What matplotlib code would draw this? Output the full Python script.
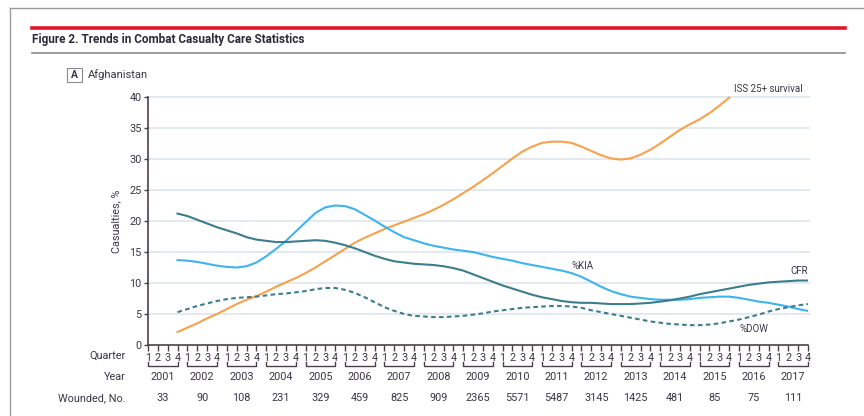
import matplotlib
matplotlib.use("Agg")
import matplotlib.pyplot as plt
from matplotlib import font_manager
from matplotlib.lines import Line2D
from matplotlib.patches import Rectangle

# ---------------- data ----------------
years = [2001, 2002, 2003, 2004, 2005, 2006, 2007, 2008, 2009, 2010, 2011,
         2012, 2013, 2014, 2015, 2016, 2017]
wounded = [33, 90, 108, 231, 329, 459, 825, 909, 2365, 5571, 5487, 3145,
           1425, 481, 85, 75, 111]
quarter_labels = ["1", "2", "3", "4"]

# series start at 2001 Q4 (quarter index 3)
iss_start = 3
iss_survival = [2.1, 2.8, 3.5, 4.3, 5.0, 5.8, 6.6, 7.3, 7.9, 8.6, 9.4, 10.1, 10.8,
                11.6, 12.5, 13.5, 14.5, 15.5, 16.5, 17.3, 18.0, 18.7, 19.3, 19.9,
                20.5, 21.1, 21.8, 22.6, 23.5, 24.5, 25.5, 26.6, 27.7, 28.9, 30.1,
                31.2, 32.0, 32.6, 32.8, 32.8, 32.6, 32.0, 31.3, 30.6, 30.1, 29.9,
                30.1, 30.7, 31.5, 32.5, 33.6, 34.7, 35.6, 36.4, 37.4, 38.6, 39.9]
cfr = [21.2, 20.8, 20.2, 19.6, 19.0, 18.5, 18.0, 17.4, 17.0, 16.8, 16.6, 16.6,
       16.7, 16.8, 16.9, 16.8, 16.5, 16.1, 15.6, 15.0, 14.4, 13.9, 13.5, 13.3,
       13.1, 13.0, 12.9, 12.7, 12.4, 12.0, 11.4, 10.8, 10.2, 9.6, 9.1, 8.6, 8.1,
       7.7, 7.4, 7.1, 6.9, 6.8, 6.8, 6.7, 6.6, 6.6, 6.6, 6.7, 6.8, 7.0, 7.2, 7.5,
       7.8, 8.2, 8.5, 8.8, 9.1, 9.4, 9.7, 9.9, 10.1, 10.2, 10.3, 10.4, 10.4]
kia = [13.7, 13.6, 13.4, 13.1, 12.8, 12.6, 12.5, 12.7, 13.3, 14.3, 15.5, 16.8,
       18.3, 19.8, 21.3, 22.2, 22.5, 22.4, 21.9, 21.0, 20.1, 19.1, 18.2, 17.4,
       16.9, 16.4, 16.0, 15.7, 15.4, 15.2, 15.0, 14.6, 14.2, 13.9, 13.6, 13.2,
       12.9, 12.6, 12.3, 12.0, 11.6, 11.0, 10.2, 9.4, 8.7, 8.2, 7.8, 7.6, 7.4,
       7.3, 7.3, 7.3, 7.4, 7.6, 7.7, 7.8, 7.8, 7.6, 7.3, 7.0, 6.8, 6.5, 6.2,
       5.8, 5.5]
dow = [5.3, 5.8, 6.3, 6.7, 7.1, 7.4, 7.6, 7.7, 7.8, 8.0, 8.2, 8.3, 8.5, 8.7,
       9.0, 9.2, 9.2, 8.9, 8.4, 7.7, 6.9, 6.1, 5.5, 5.0, 4.7, 4.6, 4.5, 4.5,
       4.6, 4.7, 4.9, 5.1, 5.4, 5.6, 5.8, 6.0, 6.1, 6.2, 6.3, 6.3, 6.2, 6.0,
       5.6, 5.3, 5.0, 4.7, 4.4, 4.1, 3.8, 3.6, 3.4, 3.3, 3.2, 3.2, 3.3, 3.5,
       3.8, 4.1, 4.5, 4.9, 5.4, 5.8, 6.1, 6.4, 6.6]
yticks = [0, 5, 10, 15, 20, 25, 30, 35, 40]

# ---------------- style ----------------
names = {f.name for f in font_manager.fontManager.ttflist}
FONT = "Liberation Sans Narrow" if "Liberation Sans Narrow" in names else "Roboto"
plt.rcParams["font.family"] = [FONT, "DejaVu Sans"]

TXT = "#3c3545"
AX = "#4a4146"
GRID = "#dfe7ee"
ORANGE = "#f9a04b"
BLUE = "#3cb4ef"
TEAL = "#3b7d8d"

W, H = 864, 416
fig = plt.figure(figsize=(W / 100, H / 100), dpi=100)

def fx(px):
    return px / W

def fy(py):
    return 1 - py / H

# frame, rules
fig.add_artist(Line2D([fx(10), fx(10)], [fy(8), fy(416)], color="#9a9a9a", lw=1))
fig.add_artist(Line2D([fx(10), fx(864)], [fy(8), fy(8)], color="#9a9a9a", lw=1))
fig.add_artist(Line2D([fx(32), fx(845)], [fy(27.5), fy(27.5)], color="#e3132c", lw=2.6))
fig.add_artist(Line2D([fx(32), fx(845)], [fy(52.5), fy(52.5)], color="#8a8a8a", lw=1.2))
fig.text(fx(32), fy(40), "Figure 2. Trends in Combat Casualty Care Statistics",
         fontsize=8.5, fontweight="bold", color="#2d2a3a", va="center", ha="left")
fig.add_artist(Rectangle((fx(67), fy(82)), fx(82) - fx(67), fy(68) - fy(82),
                         fill=False, ec="#8a8a8a", lw=0.8))
fig.text(fx(74.5), fy(75), "A", fontsize=7.5, fontweight="bold", color=TXT,
         ha="center", va="center")
fig.text(fx(88), fy(75), "Afghanistan", fontsize=8, color=TXT, ha="left", va="center")

# axes: x pixel 148..808 for quarter index 0..67, y pixel 345..97 for 0..40
ax = fig.add_axes([fx(148), fy(345), fx(808) - fx(148), fy(97) - fy(345)])
ax.set_xlim(0, 67)
ax.set_ylim(0, 40)

for y in yticks[1:]:
    ax.plot([0, 67.1], [y, y], color=GRID, lw=1.3, zorder=1, clip_on=False)

xs_iss = list(range(iss_start, iss_start + len(iss_survival)))
xs_all = list(range(iss_start, iss_start + len(cfr)))
ax.plot(xs_iss, iss_survival, color=ORANGE, lw=1.5, zorder=3, clip_on=False)
ax.plot(xs_all, kia, color=BLUE, lw=1.5, zorder=3)
ax.plot(xs_all, cfr, color=TEAL, lw=1.5, zorder=3)
ax.plot(xs_all, dow, color=TEAL, lw=1.5, ls=(0, (2.2, 1.6)), zorder=3)

for s in ["top", "right"]:
    ax.spines[s].set_visible(False)
for s in ["left", "bottom"]:
    ax.spines[s].set_color(AX)
    ax.spines[s].set_linewidth(1.2)

ax.set_yticks(yticks)
ax.set_yticklabels([str(v) for v in yticks])
nq = 4 * len(years)
ax.set_xticks(range(nq))
ax.set_xticklabels([quarter_labels[i % 4] for i in range(nq)])
ax.tick_params(axis="y", direction="out", length=3, width=1, color=AX,
               labelsize=7.8, labelcolor=TXT, pad=1.5)
ax.tick_params(axis="x", direction="out", length=4, width=1, color=AX,
               labelsize=7.8, labelcolor=TXT, pad=1.5)
ax.set_ylabel("Casualties, %", fontsize=7.8, color=TXT, labelpad=6)

# year brackets, year labels, wounded counts
tr = ax.get_xaxis_transform()
def ay(py):
    return (345 - py) / 248.0

for k, (yr, wn) in enumerate(zip(years, wounded)):
    x0, x1 = 4 * k, 4 * k + 3
    ax.plot([x0, x0, x1, x1], [ay(362), ay(366), ay(366), ay(362)],
            color=AX, lw=1.0, transform=tr, clip_on=False)
    ax.text((x0 + x1) / 2, ay(377), str(yr), transform=tr, fontsize=7.8,
            color=TXT, ha="center", va="center")
    ax.text((x0 + x1) / 2, ay(398), str(wn), transform=tr, fontsize=7.8,
            color=TXT, ha="center", va="center")

for lab, py in [("Quarter", 356), ("Year", 377), ("Wounded, No.", 398)]:
    fig.text(fx(126), fy(py), lab, fontsize=7.8, color=TXT, ha="right", va="center")

# series labels
fig.text(fx(734), fy(89), "ISS 25+ survival", fontsize=7, color=TXT, ha="left", va="center")
fig.text(fx(572), fy(266), "%KIA", fontsize=7, color=TXT, ha="left", va="center")
fig.text(fx(808), fy(271), "CFR", fontsize=7, color=TXT, ha="right", va="center")
fig.text(fx(740), fy(329), "%DOW", fontsize=7, color=TXT, ha="left", va="center")

fig.savefig("out.png", dpi=100)
